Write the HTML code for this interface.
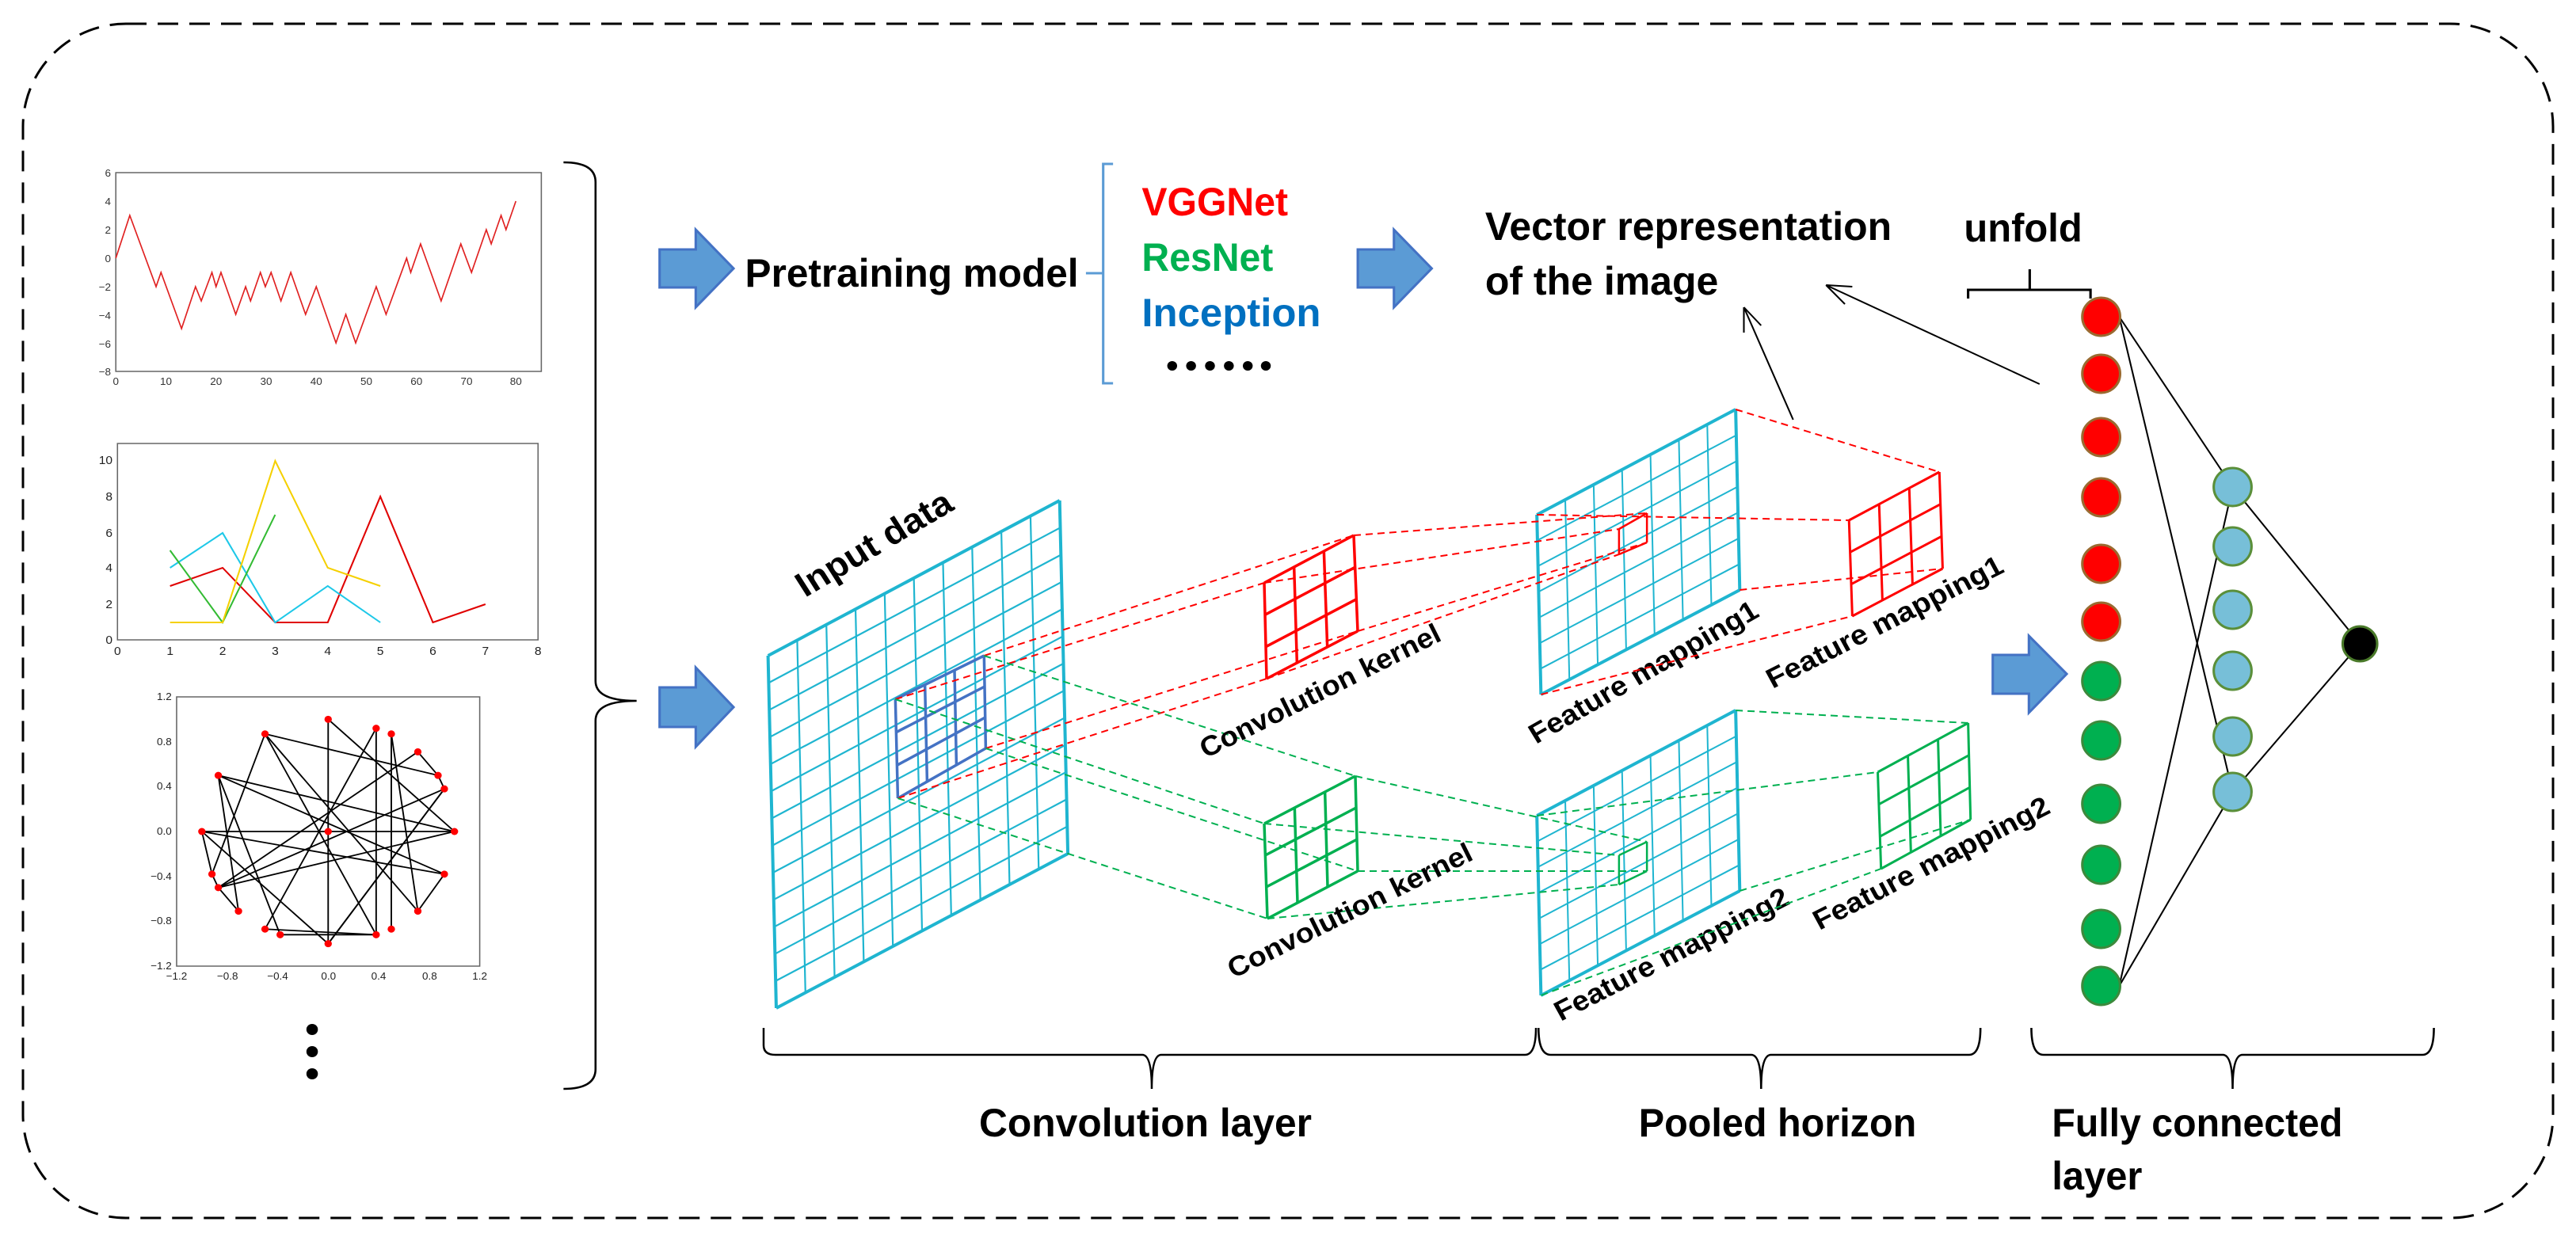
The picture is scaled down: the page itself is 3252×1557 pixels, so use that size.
<!DOCTYPE html>
<html><head><meta charset="utf-8">
<style>
html,body{margin:0;padding:0;background:#fff;}
svg{display:block;}
text{font-family:"Liberation Sans",sans-serif;}
.b{font-weight:bold;}
</style></head>
<body>
<svg id="s" xmlns="http://www.w3.org/2000/svg" width="3252" height="1557" viewBox="0 0 3252 1557">
<rect x="29" y="30" width="3194" height="1508" rx="130" ry="130" fill="none" stroke="#000" stroke-width="3" stroke-dasharray="26,14"/>

<g transform="matrix(1.037,0,0,1,0,0)">
<!-- Chart 1 -->
<g font-size="13" fill="#333">
<rect x="141" y="218" width="518" height="251" fill="none" stroke="#666" stroke-width="1.5"/>
<polyline fill="none" stroke="#e02020" stroke-width="1.6" points="141,326 158,272 190,362 196,344 221,415 238,362 245,380 258,344 263,362 269,344 287,397 299,362 305,380 317,344 323,362 330,344 342,380 354,344 372,397 385,362 409,433 421,397 433,433 458,362 470,397 495,326 500,344 512,308 537,380 561,308 574,344 592,290 598,308 610,272 616,290 628,254"/>
<g text-anchor="end"><text x="135" y="223">6</text><text x="135" y="259">4</text><text x="135" y="295">2</text><text x="135" y="331">0</text><text x="135" y="367">−2</text><text x="135" y="403">−4</text><text x="135" y="439">−6</text><text x="135" y="474">−8</text></g>
<g text-anchor="middle"><text x="141" y="486">0</text><text x="202" y="486">10</text><text x="263" y="486">20</text><text x="324" y="486">30</text><text x="385" y="486">40</text><text x="446" y="486">50</text><text x="507" y="486">60</text><text x="568" y="486">70</text><text x="628" y="486">80</text></g>
</g>

<!-- Chart 2 -->
<g font-size="15" fill="#222">
<rect x="143" y="560" width="512" height="248" fill="none" stroke="#666" stroke-width="1.5"/>
<polyline fill="none" stroke="#e00000" stroke-width="2" points="207,740 271,717 335,786 399,786 463,627 527,786 591,763"/>
<polyline fill="none" stroke="#1ec8e8" stroke-width="2" points="207,717 271,673 335,786 399,740 463,786"/>
<polyline fill="none" stroke="#33bb33" stroke-width="2" points="207,695 271,786 335,650"/>
<polyline fill="none" stroke="#f5d000" stroke-width="2" points="207,786 271,786 335,582 399,717 463,740"/>
<g text-anchor="end"><text x="137" y="586">10</text><text x="137" y="632">8</text><text x="137" y="678">6</text><text x="137" y="722">4</text><text x="137" y="768">2</text><text x="137" y="813">0</text></g>
<g text-anchor="middle"><text x="143" y="827">0</text><text x="207" y="827">1</text><text x="271" y="827">2</text><text x="335" y="827">3</text><text x="399" y="827">4</text><text x="463" y="827">5</text><text x="527" y="827">6</text><text x="591" y="827">7</text><text x="655" y="827">8</text></g>
</g>

<!-- Chart 3 -->
<g font-size="13" fill="#222">
<rect x="215" y="880" width="369" height="340" fill="none" stroke="#666" stroke-width="1.5"/>
<g id="net"></g>
<g text-anchor="end"><text x="209" y="884">1.2</text><text x="209" y="941">0.8</text><text x="209" y="997">0.4</text><text x="209" y="1054">0.0</text><text x="209" y="1111">−0.4</text><text x="209" y="1167">−0.8</text><text x="209" y="1224">−1.2</text></g>
<g text-anchor="middle"><text x="215" y="1237">−1.2</text><text x="277" y="1237">−0.8</text><text x="338" y="1237">−0.4</text><text x="400" y="1237">0.0</text><text x="461" y="1237">0.4</text><text x="523" y="1237">0.8</text><text x="584" y="1237">1.2</text></g>
</g>
<ellipse cx="380" cy="1300" rx="7" ry="7"/><ellipse cx="380" cy="1328" rx="7" ry="7"/><ellipse cx="380" cy="1356" rx="7" ry="7"/>

<path d="M686,205 Q725,205 725,230 L725,860 Q725,885 775,885 Q725,885 725,910 L725,1350 Q725,1375 686,1375" fill="none" stroke="#000" stroke-width="2.5"/>

<g fill="#5b9bd5" stroke="#4472c4" stroke-width="3">
<path d="M803,315 L847,315 L847,290 L893,339 L847,388 L847,363 L803,363 Z"/>
<path d="M803,868 L847,868 L847,843 L893,893 L847,943 L847,918 L803,918 Z"/>
</g>

<text x="907" y="362" class="b" font-size="50" textLength="406" lengthAdjust="spacingAndGlyphs">Pretraining model</text>
<path d="M1322,345 L1343,345 M1355,207 L1343,207 L1343,484 L1355,484" fill="none" stroke="#5b9bd5" stroke-width="3"/>
<text x="1390" y="272" class="b" font-size="50" fill="#ff0000" textLength="178" lengthAdjust="spacingAndGlyphs">VGGNet</text>
<text x="1390" y="342" class="b" font-size="50" fill="#00b050" textLength="160" lengthAdjust="spacingAndGlyphs">ResNet</text>
<text x="1390" y="412" class="b" font-size="50" fill="#0070c0" textLength="218" lengthAdjust="spacingAndGlyphs">Inception</text>
<g fill="#000"><ellipse cx="1427" cy="462" rx="6" ry="6"/><ellipse cx="1450" cy="462" rx="6" ry="6"/><ellipse cx="1473" cy="462" rx="6" ry="6"/><ellipse cx="1496" cy="462" rx="6" ry="6"/><ellipse cx="1519" cy="462" rx="6" ry="6"/><ellipse cx="1541" cy="462" rx="6" ry="6"/></g>
<text transform="translate(980,755) rotate(-31.5)" class="b" font-size="44" textLength="215" lengthAdjust="spacingAndGlyphs">Input data</text>
</g>

<g transform="matrix(1.037,0,0,1,-60.2,0)">
<g fill="#5b9bd5" stroke="#4472c4" stroke-width="3">
<path d="M1711,315 L1755,315 L1755,290 L1801,339 L1755,388 L1755,363 L1711,363 Z"/>
<path d="M2484,827 L2528,827 L2528,803 L2574,851 L2528,900 L2528,876 L2484,876 Z"/>
</g>
<text x="1866" y="303" class="b" font-size="50" textLength="495" lengthAdjust="spacingAndGlyphs">Vector representation</text>
<text x="1866" y="372" class="b" font-size="50" textLength="284" lengthAdjust="spacingAndGlyphs">of the image</text>
<text x="2449" y="305" class="b" font-size="50" textLength="144" lengthAdjust="spacingAndGlyphs">unfold</text>
<path d="M2454,377 L2454,366 L2529,366 L2529,340 M2529,366 L2603,366 L2603,377" fill="none" stroke="#000" stroke-width="3"/>
<g stroke="#000" stroke-width="2" fill="none">
<path d="M2541,485 L2281,360 M2281,360 L2304,384 M2281,360 L2313,362"/>
<path d="M2241,530 L2181,388 M2181,388 L2181,420 M2181,388 L2202,411"/>
</g>
<g class="b" font-weight="bold" fill="#000">
<text transform="translate(1928,940) rotate(-30.7)" font-size="35" textLength="318" lengthAdjust="spacingAndGlyphs">Feature mapping1</text>
<text transform="translate(2216,870) rotate(-27.6)" font-size="35" textLength="320" lengthAdjust="spacingAndGlyphs">Feature mapping1</text>
<text transform="translate(1958,1290) rotate(-28)" font-size="35" textLength="318" lengthAdjust="spacingAndGlyphs">Feature mapping2</text>
<text transform="translate(2273,1175) rotate(-27.8)" font-size="35" textLength="320" lengthAdjust="spacingAndGlyphs">Feature mapping2</text>
</g>
<g fill="none" stroke="#000" stroke-width="2.5">
<path d="M1931,1298 Q1931,1332 1946,1332 L2190,1332 Q2202,1332 2202,1375 Q2202,1332 2214,1332 L2455,1332 Q2469,1332 2469,1298"/>
<path d="M2531,1298 Q2531,1332 2546,1332 L2764,1332 Q2776,1332 2776,1375 Q2776,1332 2788,1332 L3007,1332 Q3021,1332 3021,1298"/>
</g>
<g class="b" font-weight="bold" font-size="50">
<text x="2053" y="1435" textLength="338" lengthAdjust="spacingAndGlyphs">Pooled horizon</text>
<text x="2556" y="1435" textLength="354" lengthAdjust="spacingAndGlyphs">Fully connected</text>
<text x="2556" y="1502" textLength="110" lengthAdjust="spacingAndGlyphs">layer</text>
</g>
<g stroke="#000" stroke-width="2">
<line x1="2638" y1="400" x2="2776" y2="615"/><line x1="2638" y1="400" x2="2776" y2="1000"/>
<line x1="2638" y1="1245" x2="2776" y2="615"/><line x1="2638" y1="1245" x2="2776" y2="1000"/>
<line x1="2776" y1="615" x2="2931" y2="813"/><line x1="2776" y1="1000" x2="2931" y2="813"/>
</g>
<g stroke-width="3">
<g fill="#ff0000" stroke="#9a6a30">
<ellipse cx="2616" cy="400" rx="23" ry="24"/><ellipse cx="2616" cy="472" rx="23" ry="24"/><ellipse cx="2616" cy="552" rx="23" ry="24"/><ellipse cx="2616" cy="628" rx="23" ry="24"/><ellipse cx="2616" cy="712" rx="23" ry="24"/><ellipse cx="2616" cy="785" rx="23" ry="24"/>
</g>
<g fill="#00b050" stroke="#3c8a3c">
<ellipse cx="2616" cy="860" rx="23" ry="24"/><ellipse cx="2616" cy="935" rx="23" ry="24"/><ellipse cx="2616" cy="1015" rx="23" ry="24"/><ellipse cx="2616" cy="1092" rx="23" ry="24"/><ellipse cx="2616" cy="1173" rx="23" ry="24"/><ellipse cx="2616" cy="1245" rx="23" ry="24"/>
</g>
<g fill="#77bfd8" stroke="#5a8f3a">
<ellipse cx="2776" cy="615" rx="23" ry="24"/><ellipse cx="2776" cy="690" rx="23" ry="24"/><ellipse cx="2776" cy="770" rx="23" ry="24"/><ellipse cx="2776" cy="847" rx="23" ry="24"/><ellipse cx="2776" cy="930" rx="23" ry="24"/><ellipse cx="2776" cy="1000" rx="23" ry="24"/>
</g>
<ellipse cx="2931" cy="813" rx="21" ry="22" fill="#000" stroke="#4a7a2a"/>
</g>
</g>

<g id="geo"></g>

<g class="b" font-weight="bold" fill="#000">
<text transform="translate(1522,958) rotate(-26.6)" font-size="35" textLength="335" lengthAdjust="spacingAndGlyphs">Convolution kernel</text>
<text transform="translate(1557,1236) rotate(-26.4)" font-size="35" textLength="340" lengthAdjust="spacingAndGlyphs">Convolution kernel</text>
</g>

<path d="M964,1298 L964,1320 Q964,1332 979,1332 L1442,1332 Q1454,1332 1454,1375 Q1454,1332 1466,1332 L1925,1332 Q1939,1332 1939,1298" fill="none" stroke="#000" stroke-width="2.5"/>
<text x="1236" y="1435" class="b" font-size="50" textLength="420" lengthAdjust="spacingAndGlyphs">Convolution layer</text>
</svg>
<script>
(function(){
var NS="http://www.w3.org/2000/svg";
var geo=document.getElementById("geo");
function L(g,x1,y1,x2,y2,c,w,d){var l=document.createElementNS(NS,"line");l.setAttribute("x1",x1);l.setAttribute("y1",y1);l.setAttribute("x2",x2);l.setAttribute("y2",y2);l.setAttribute("stroke",c);l.setAttribute("stroke-width",w);if(d)l.setAttribute("stroke-dasharray",d);g.appendChild(l);}
function lerp(a,b,t){return [a[0]+(b[0]-a[0])*t,a[1]+(b[1]-a[1])*t];}
function grid(q,nc,nr,c,w,bw){var TL=q[0],TR=q[1],BR=q[2],BL=q[3];
for(var i=1;i<nc;i++){var t=i/nc,a=lerp(TL,TR,t),b=lerp(BL,BR,t);L(geo,a[0],a[1],b[0],b[1],c,w);}
for(var j=1;j<nr;j++){var t=j/nr,a=lerp(TL,BL,t),b=lerp(TR,BR,t);L(geo,a[0],a[1],b[0],b[1],c,w);}
for(var k=0;k<4;k++){var p=q[k],r=q[(k+1)%4];L(geo,p[0],p[1],r[0],r[1],c,bw);}}
function t1(q){return q.map(function(p){return [p[0]*1.037,p[1]];});}
function t2(q){return q.map(function(p){return [p[0]*1.037-60.2,p[1]];});}
var cy="#1fb5d0",red="#ff0000",grn="#00b050";
var inp=t1([[935,828],[1290,632],[1300,1078],[945,1273]]);
var bk=t1([[1090,883],[1198,828],[1200,945],[1093,1008]]);
var rk=[[1596,736],[1709,676],[1714,797],[1599,857]];
var gk=[[1596,1040],[1711,980],[1714,1100],[1600,1160]];
var f1=t2([[1929,650],[2171,517],[2176,745],[1934,877]]);
var f2=t2([[1929,1030],[2171,897],[2176,1125],[1934,1257]]);
var s1=t2([[2029,668],[2063,648],[2063,685],[2029,700]]);
var s2=t2([[2029,1080],[2063,1063],[2063,1100],[2029,1117]]);
var p1=t2([[2309,657],[2419,596],[2423,718],[2313,778]]);
var p2=t2([[2344,975],[2454,913],[2457,1035],[2348,1097]]);
grid(inp,10,13,cy,2.2,4);
grid(f1,7,7,cy,2,4);
grid(f2,7,7,cy,2,4);
grid(bk,3,3,"#4472c4",3.5,3.5);
grid(rk,3,3,red,3.5,3.5);
grid(gk,3,3,grn,3.5,3.5);
grid(p1,3,3,red,3,3);
grid(p2,3,3,grn,3,3);
grid(s1,1,1,red,2.5,2.5);
grid(s2,1,1,grn,2.5,2.5);
function conn(a,b,c){for(var k=0;k<4;k++)L(geo,a[k][0],a[k][1],b[k][0],b[k][1],c,2,"9,6");}
conn(bk,rk,red);conn(rk,s1,red);conn(f1,p1,red);
conn(bk,gk,grn);conn(gk,s2,grn);conn(f2,p2,grn);
var net=document.getElementById("net");
var P={A:[0,1],B:[0.38,0.92],C:[0.5,0.87],D:[0.71,0.71],E:[0.87,0.5],F:[0.92,0.38],G:[1,0],H:[0.92,-0.38],I:[0.71,-0.71],J:[0.5,-0.87],K:[0.38,-0.92],Lp:[0,-1],M:[-0.38,-0.92],N:[-0.5,-0.87],O:[-0.71,-0.71],Pp:[-0.87,-0.5],Q:[-0.92,-0.38],R:[-1,0],S:[-0.87,0.5],T:[-0.5,0.87],U:[0,0]};
function X(p){return [399.5+p[0]*153.75,1050-p[1]*141.67];}
var E=[["A","Lp"],["A","G"],["T","E"],["T","Q"],["T","K"],["T","I"],["S","G"],["S","H"],["S","O"],["S","M"],["R","G"],["R","Q"],["R","H"],["R","Lp"],["Pp","F"],["Pp","G"],["Pp","O"],["Q","Pp"],["D","E"],["D","Pp"],["E","F"],["B","K"],["B","N"],["C","J"],["C","I"],["F","Lp"],["H","I"],["M","K"],["N","K"],["Lp","F"]];
E.forEach(function(e){var a=X(P[e[0]]),b=X(P[e[1]]);L(net,a[0],a[1],b[0],b[1],"#000",1.8);});
for(var k in P){var a=X(P[k]);var c=document.createElementNS(NS,"ellipse");c.setAttribute("cx",a[0]);c.setAttribute("cy",a[1]);c.setAttribute("rx",4.5);c.setAttribute("ry",4.5);c.setAttribute("fill","#ff0000");net.appendChild(c);}
})();
</script>
</body></html>
